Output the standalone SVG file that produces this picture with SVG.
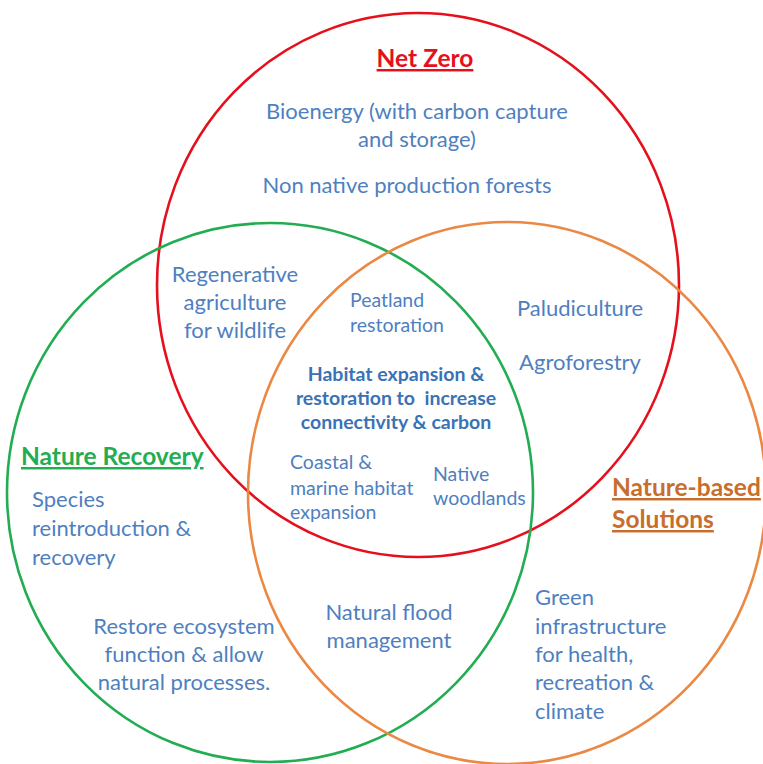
<svg xmlns="http://www.w3.org/2000/svg" width="763" height="764" viewBox="0 0 763 764">
<style>
  .ring{fill:none;stroke-width:2.6}
  .t{font-family:Lato,"Open Sans","Liberation Sans",sans-serif;font-size:22px;fill:#4f7fbf;text-anchor:middle}
  .s{font-size:19.5px}
  .b{font-weight:bold;font-size:19.5px;fill:#3a72b6}
  .l{text-anchor:start}
  .h{font-family:Lato,"Open Sans","Liberation Sans",sans-serif;font-weight:bold;font-size:24.5px;text-decoration:underline}
</style>
<rect width="763" height="764" fill="#ffffff"/>
<g id="set-net-zero">
  <ellipse class="ring" cx="418" cy="285" rx="261" ry="272" stroke="#e5101c"/>
  <text class="h" x="425" y="67" text-anchor="middle" fill="#e5101c">Net Zero</text>
</g>
<g id="set-nature-recovery">
  <ellipse class="ring" cx="270" cy="492.5" rx="263" ry="269.5" stroke="#22ad52"/>
  <text class="h" x="21" y="465" fill="#22ad52">Nature Recovery</text>
</g>
<g id="set-nature-based">
  <ellipse class="ring" cx="507" cy="493" rx="259" ry="271" stroke="#ea8844"/>
  <text class="h" x="612" y="496" fill="#c86d2c">Nature-based</text>
  <text class="h" x="612" y="528" fill="#c86d2c">Solutions</text>
</g>
<g id="bioenergy">
  <text class="t" x="417" y="119">Bioenergy (with carbon capture</text>
  <text class="t" x="417" y="147">and storage)</text>
</g>
<g id="non-native-forests">
  <text class="t" x="407" y="193">Non native production forests</text>
</g>
<g id="regenerative-agriculture">
  <text class="t" x="235" y="282">Regenerative</text>
  <text class="t" x="235" y="310">agriculture</text>
  <text class="t" x="235" y="338">for wildlife</text>
</g>
<g id="peatland">
  <text class="t s l" x="350" y="307">Peatland</text>
  <text class="t s l" x="350" y="332">restoration</text>
</g>
<g id="paludiculture">
  <text class="t" x="580" y="316">Paludiculture</text>
</g>
<g id="agroforestry">
  <text class="t" x="580" y="370">Agroforestry</text>
</g>
<g id="habitat-expansion">
  <text class="t b" x="396" y="381">Habitat expansion &amp;</text>
  <text class="t b" x="396" y="405" xml:space="preserve">restoration to  increase</text>
  <text class="t b" x="396" y="429">connectivity &amp; carbon</text>
</g>
<g id="coastal-marine">
  <text class="t s l" x="290" y="469">Coastal &amp;</text>
  <text class="t s l" x="290" y="495">marine habitat</text>
  <text class="t s l" x="290" y="519">expansion</text>
</g>
<g id="native-woodlands">
  <text class="t s l" x="433" y="481">Native</text>
  <text class="t s l" x="433" y="505">woodlands</text>
</g>
<g id="species">
  <text class="t l" x="32" y="507">Species</text>
  <text class="t l" x="32" y="536">reintroduction &amp;</text>
  <text class="t l" x="32" y="565">recovery</text>
</g>
<g id="restore-ecosystem">
  <text class="t" x="184" y="634">Restore ecosystem</text>
  <text class="t" x="184" y="662">function &amp; allow</text>
  <text class="t" x="184" y="690">natural processes.</text>
</g>
<g id="natural-flood">
  <text class="t" x="389" y="620">Natural flood</text>
  <text class="t" x="389" y="648">management</text>
</g>
<g id="green-infrastructure">
  <text class="t l" x="535" y="605">Green</text>
  <text class="t l" x="535" y="634">infrastructure</text>
  <text class="t l" x="535" y="662">for health,</text>
  <text class="t l" x="535" y="690">recreation &amp;</text>
  <text class="t l" x="535" y="719">climate</text>
</g>
<g id="connectors"></g>
</svg>
